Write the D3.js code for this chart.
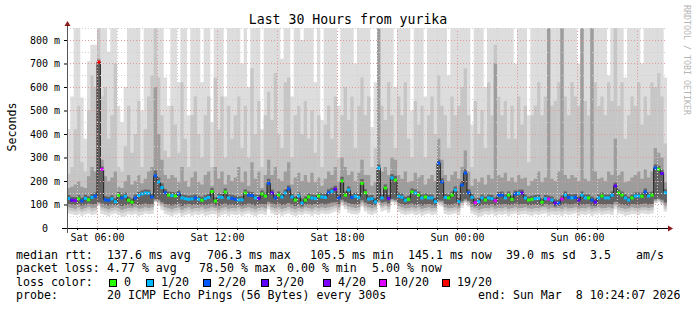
<!DOCTYPE html>
<html>
<head>
<meta charset="utf-8">
<script src="https://cdn.jsdelivr.net/npm/d3@7"></script>
<style>
  body { margin: 0; background: #fff; }
  svg { display: block; }
  text { font-family: "DejaVu Sans Mono", monospace; white-space: pre; }
</style>
</head>
<body>
<div class="chart"></div>
<script>
// smokeping style chart - 30 hours, one column per 10 minutes

// median rtt per column (ms)
var med = [125,118,117,124,115,126,120,130,136,706,
  250,120,118,124,112,138,128,135,118,110,
  128,138,145,149,148,132,222,196,172,150,
  140,138,136,145,128,125,122,124,128,122,
  118,125,130,155,115,132,130,153,128,126,
  122,119,120,149,140,138,128,125,145,136,
  190,149,128,140,132,149,166,132,119,136,
  106,119,132,128,125,136,132,130,150,156,
  165,128,200,140,162,130,135,130,190,150,
  123,125,111,255,128,170,125,213,204,135,
  131,118,122,153,149,140,128,132,128,128,
  112,276,196,130,128,140,162,112,183,234,
  150,130,108,112,128,119,128,125,116,138,
  140,128,140,122,145,148,149,128,119,122,
  125,126,110,125,123,119,106,106,123,140,
  130,128,130,119,140,128,128,119,110,128,
  136,128,128,140,179,149,140,128,119,128,
  136,136,135,153,136,140,255,250,232,150];

// lost pings out of 20 per column
var loss = [1,3,4,0,2,1,0,1,2,19,
  10,2,2,1,1,0,2,1,0,0,
  2,1,1,1,1,2,2,1,1,2,
  0,1,0,2,1,1,1,1,2,1,
  0,1,1,0,0,1,1,0,1,2,
  2,1,1,0,2,2,1,3,0,0,
  2,3,2,0,1,1,2,1,0,1,
  1,0,0,1,1,0,1,1,2,1,
  3,2,0,0,1,2,1,1,0,0,
  1,1,1,1,1,0,3,1,0,1,
  1,1,0,0,1,0,1,0,1,1,
  1,2,2,1,0,0,1,1,2,2,
  2,1,10,1,1,0,1,1,10,2,
  2,1,0,0,2,1,3,1,0,0,
  1,1,0,1,10,1,3,2,10,1,
  2,1,2,3,1,1,0,2,3,1,
  0,1,1,1,3,0,0,1,1,0,
  1,1,0,2,1,0,2,0,3,1];

// smoke: outer (max/min) to inner bands, ms
var up1 = [420,560,850,850,555,380,710,780,780,850,
  850,850,750,850,850,520,450,600,850,850,
  850,850,500,850,850,850,850,850,850,640,
  520,850,850,620,850,850,480,850,850,850,
  620,850,850,450,850,850,850,560,850,850,
  850,850,700,850,600,850,850,850,420,850,
  850,850,850,850,720,850,850,560,850,850,
  800,850,850,850,620,850,460,850,850,850,
  850,520,850,850,850,850,700,850,850,850,
  850,430,620,850,850,850,850,850,600,850,
  850,850,850,500,850,850,850,560,850,850,
  850,850,850,850,650,850,850,850,850,850,
  850,440,850,850,850,600,850,850,850,850,
  850,850,850,850,700,850,850,850,480,850,
  850,850,850,850,850,850,850,850,850,850,
  850,850,850,700,850,850,850,850,850,850,
  850,850,650,850,850,850,850,640,850,850,
  850,850,700,850,850,850,850,850,850,640];
var up2 = [230,260,420,520,280,240,500,650,600,850,
  560,600,380,480,700,260,240,350,520,320,
  400,540,260,420,560,650,850,640,480,330,
  300,520,440,320,620,380,260,480,560,400,
  300,480,560,260,640,420,560,300,520,380,
  480,560,340,520,300,680,400,540,260,480,
  580,460,660,400,340,620,640,300,480,520,
  400,540,380,500,320,480,260,440,520,380,
  560,300,480,600,460,560,340,520,640,480,
  560,260,340,850,520,460,620,480,340,560,
  480,620,380,300,540,440,520,300,480,560,
  400,650,520,480,340,560,480,520,600,680,
  480,260,540,400,500,340,620,480,780,560,
  480,540,380,520,380,560,440,520,280,480,
  520,620,480,560,850,520,540,620,850,560,
  480,620,560,520,850,540,480,850,620,520,
  560,480,620,540,850,520,620,380,480,560,
  520,620,440,560,480,620,600,660,560,360];
var up3 = [170,175,185,200,175,170,220,260,240,720,
  290,220,200,215,240,175,170,200,225,185,
  200,225,190,210,240,260,600,400,290,225,
  210,225,215,195,260,200,175,215,240,195,
  185,225,240,180,260,210,240,185,225,200,
  215,260,195,240,180,280,210,240,170,225,
  290,225,260,210,200,240,280,185,215,235,
  200,225,195,235,195,215,180,210,240,225,
  260,195,300,260,225,240,200,235,290,225,
  225,180,195,850,240,260,225,300,290,225,
  210,240,195,200,235,215,225,185,210,225,
  200,380,290,225,200,225,240,210,260,330,
  240,180,210,195,215,185,225,210,700,225,
  215,235,200,215,195,225,210,215,180,200,
  210,240,195,215,850,210,200,240,850,225,
  210,225,215,200,850,210,200,850,240,210,
  215,200,240,225,380,225,240,195,200,215,
  225,240,210,250,215,240,340,320,300,195];
var up4 = [140,133,132,139,130,141,135,145,151,710,
  262,135,133,139,127,153,143,150,133,125,
  143,153,160,164,163,147,245,215,190,165,
  155,153,151,160,143,140,137,139,143,137,
  133,140,145,170,130,147,145,168,143,141,
  137,134,135,164,155,153,143,140,160,151,
  210,164,143,155,147,164,181,147,134,151,
  125,134,147,143,140,151,147,145,165,171,
  180,143,218,155,177,145,150,145,208,165,
  138,140,128,270,143,185,140,230,222,150,
  146,133,137,168,164,155,143,147,143,143,
  128,290,212,145,143,155,177,128,200,250,
  165,145,125,128,143,134,143,140,131,153,
  155,143,155,137,160,163,164,143,134,137,
  140,141,126,140,138,134,122,122,138,155,
  145,143,145,134,155,143,143,134,126,143,
  151,143,143,155,194,164,155,143,134,143,
  151,151,150,168,151,155,270,265,248,165];
var lo4 = [102,100,98,102,96,100,104,100,102,110,
  104,100,96,100,98,100,94,98,100,96,
  102,98,100,104,100,102,122,120,110,102,
  100,96,100,104,94,100,102,98,100,98,
  100,98,100,104,96,94,100,104,98,100,
  98,100,96,100,104,100,96,100,102,100,
  112,104,100,104,98,100,106,100,94,100,
  92,100,100,98,102,100,104,100,104,108,
  110,102,120,112,106,102,100,102,118,108,
  102,98,98,118,108,112,104,124,120,106,
  102,98,100,104,98,102,96,100,102,98,
  96,118,116,102,98,100,104,96,114,122,
  116,102,94,94,98,100,98,102,96,100,
  100,102,98,100,104,100,102,102,98,98,
  100,98,96,102,98,100,92,94,98,104,
  100,100,104,96,100,100,102,96,94,102,
  100,100,102,100,112,104,100,98,96,102,
  100,100,102,104,100,102,122,126,120,108];
var lo3 = [88,85,82,88,80,85,90,84,86,104,
  88,84,80,85,88,84,78,82,85,84,
  88,82,84,88,85,88,116,112,100,88,
  84,80,85,88,78,84,88,82,85,84,
  88,82,84,88,85,78,84,88,82,85,
  84,88,82,85,88,84,80,85,88,84,
  102,88,84,88,82,85,90,84,80,85,
  82,88,85,82,88,84,88,85,88,92,
  96,88,112,100,92,88,85,88,108,95,
  88,84,88,110,95,100,92,118,114,94,
  88,84,85,88,84,88,82,85,88,84,
  85,110,108,88,84,85,88,84,106,116,
  108,88,84,78,82,85,84,88,82,85,
  84,88,82,85,88,84,85,88,84,82,
  85,84,88,88,82,86,84,85,82,88,
  84,85,88,82,85,84,88,82,85,88,
  84,85,88,84,100,88,85,82,84,88,
  85,84,88,88,85,88,116,120,112,95];
var lo2 = [75,72,70,76,68,72,78,70,74,100,
  75,70,66,72,76,70,64,68,72,70,
  75,68,70,76,72,75,112,105,88,75,
  70,66,72,76,64,70,75,68,72,70,
  75,68,70,75,72,64,70,75,68,72,
  70,75,68,72,76,70,66,72,75,70,
  92,76,70,75,68,72,78,70,66,72,
  68,76,72,68,75,70,76,72,75,80,
  85,76,105,92,80,75,72,76,100,84,
  75,70,76,105,85,90,80,112,108,82,
  75,70,72,76,70,75,68,72,76,70,
  72,105,100,75,70,72,76,70,98,110,
  100,76,70,64,68,72,70,75,68,72,
  70,75,68,72,76,70,72,75,70,68,
  72,70,75,76,68,72,70,72,68,75,
  70,72,76,68,72,70,75,68,72,76,
  70,72,75,70,92,76,72,68,70,75,
  72,70,76,75,72,76,110,115,105,82];
var lo1 = [62,58,55,60,52,58,62,55,58,95,
  60,55,50,58,62,55,48,52,58,55,
  60,52,55,62,58,60,110,95,75,60,
  55,50,58,62,48,55,60,52,58,55,
  60,52,55,60,58,48,55,60,52,58,
  55,60,52,58,62,55,50,58,60,55,
  80,62,55,60,52,58,62,55,50,58,
  55,62,58,52,60,55,62,58,60,65,
  70,62,95,80,65,60,58,62,90,70,
  60,55,62,100,70,75,65,108,100,68,
  60,55,58,62,55,60,52,58,62,55,
  58,100,90,60,55,58,62,55,85,105,
  90,62,55,48,52,58,55,60,52,58,
  55,60,52,58,62,55,58,60,55,52,
  58,55,60,62,52,58,55,58,52,60,
  55,58,62,52,58,55,60,52,58,62,
  55,58,60,55,80,62,58,52,55,60,
  58,55,62,60,58,62,105,110,100,70];

var lossKeys = [0, 1, 2, 3, 4, 10, 19];
var lossColors = ["#26ff00", "#00b8ff", "#0059ff", "#5e00ff", "#7e00ff", "#dd00ff", "#ff0000"];
var lossLabels = ["0", "1/20", "2/20", "3/20", "4/20", "10/20", "19/20"];

var yTickValues = [0, 100, 200, 300, 400, 500, 600, 700, 800];

var svgWidth = 697;
var svgHeight = 310;
var plotLeft = 67, plotRight = 667, plotTop = 28, plotBottom = 228;

var startTime = new Date(2026, 2, 7, 4, 30);
var endTime = new Date(2026, 2, 8, 10, 30);

var x = d3.scaleTime().domain([startTime, endTime]).range([plotLeft, plotRight]);
var y = d3.scaleLinear().domain([0, 851]).range([plotBottom, plotTop]);

function colTime(i) { return d3.timeMinute.offset(startTime, i * 10); }
function val(arr, i) { return arr[Math.min(i, arr.length - 1)]; }

var svg = d3.select(".chart").append("svg")
  .attr("width", svgWidth)
  .attr("height", svgHeight);

svg.append("rect").attr("width", svgWidth).attr("height", svgHeight).attr("fill", "#fff");

svg.append("defs").append("clipPath").attr("id", "plotclip")
  .append("rect")
  .attr("x", plotLeft).attr("y", plotTop)
  .attr("width", plotRight - plotLeft).attr("height", plotBottom - plotTop);

var plot = svg.append("g").attr("clip-path", "url(#plotclip)");

// smoke bands, outer to inner
var idx = d3.range(med.length + 1);
var bands = [
  [lo1, up1, "#dddddd"],
  [lo2, up2, "#c6c6c6"],
  [lo3, up3, "#9d9d9d"],
  [lo4, up4, "#636363"]
];
bands.forEach(function(b) {
  var area = d3.area().curve(d3.curveStepAfter)
    .x(function(i) { return x(colTime(i)); })
    .y0(function(i) { return y(val(b[0], i)); })
    .y1(function(i) { return y(Math.min(val(b[1], i), 900)); });
  plot.append("path").datum(idx).attr("d", area).attr("fill", b[2]);
});

// grid
var grid = svg.append("g").attr("shape-rendering", "crispEdges");
x.ticks(d3.timeHour.every(1)).forEach(function(t) {
  var major = t.getHours() % 3 === 0;
  var px = Math.round(x(t)) + 0.5;
  grid.append("line")
    .attr("x1", px).attr("x2", px)
    .attr("y1", plotTop).attr("y2", plotBottom)
    .attr("stroke", major ? "#e39a9a" : "#cfcfcf")
    .attr("stroke-dasharray", "1,2");
});
d3.range(50, 851, 50).forEach(function(v) {
  var major = v % 100 === 0;
  var py = Math.round(y(v)) + 0.5;
  grid.append("line")
    .attr("x1", plotLeft).attr("x2", plotRight)
    .attr("y1", py).attr("y2", py)
    .attr("stroke", major ? "#e39a9a" : "#cfcfcf")
    .attr("stroke-dasharray", "1,2");
});

// median line
var medLine = d3.line().curve(d3.curveStepAfter)
  .x(function(i) { return x(colTime(i)); })
  .y(function(i) { return y(val(med, i)); });
plot.append("path").datum(idx).attr("d", medLine)
  .attr("fill", "none").attr("stroke", "#202020").attr("stroke-width", 1);

// loss coloured median segments
plot.selectAll("rect.med")
  .data(med)
  .enter()
  .append("rect")
  .attr("class", "med")
  .attr("x", function(d, i) { return x(colTime(i)); })
  .attr("width", function(d, i) { return x(colTime(i + 1)) - x(colTime(i)); })
  .attr("y", function(d) { return y(d) - 1.5; })
  .attr("height", 3)
  .attr("fill", function(d, i) { return lossColors[lossKeys.indexOf(loss[i])]; });

// axes
var xAxisTicks = svg.append("g")
  .attr("transform", "translate(0," + plotBottom + ")")
  .call(d3.axisBottom(x).ticks(d3.timeHour.every(1)).tickSizeInner(2).tickSizeOuter(0).tickFormat(""));
xAxisTicks.select(".domain").remove();

var labelTimes = [6, 12, 18, 24, 30].map(function(h) { return d3.timeHour.offset(new Date(2026, 2, 7, 0, 0), h); });
var xAxisLabels = svg.append("g")
  .attr("transform", "translate(0," + plotBottom + ")")
  .call(d3.axisBottom(x).tickValues(labelTimes).tickSize(0).tickPadding(6).tickFormat(d3.timeFormat("%a %H:%M")));
xAxisLabels.select(".domain").remove();
xAxisLabels.selectAll("text").attr("font-family", "DejaVu Sans Mono").attr("font-size", "10px").attr("fill", "#000");

var yAxis = svg.append("g")
  .attr("transform", "translate(" + plotLeft + ",0)")
  .call(d3.axisLeft(y).tickValues(yTickValues).tickSize(3).tickPadding(4)
    .tickFormat(function(d) { return d === 0 ? "0  " : d + " m"; }));
yAxis.select(".domain").remove();
yAxis.selectAll("text").attr("font-family", "DejaVu Sans Mono").attr("font-size", "10px").attr("fill", "#000");

svg.append("line")
  .attr("x1", 62).attr("x2", 668).attr("y1", plotBottom + 0.5).attr("y2", plotBottom + 0.5)
  .attr("stroke", "#000");
svg.append("line")
  .attr("x1", plotLeft + 0.5).attr("x2", plotLeft + 0.5).attr("y1", 233).attr("y2", 25)
  .attr("stroke", "#555");
svg.append("path").attr("d", "M668,225.5 L673,228.5 L668,231.5 Z").attr("fill", "#8b1a1a");
svg.append("path").attr("d", "M64.5,26 L67.5,21 L70.5,26 Z").attr("fill", "#8b1a1a");

// titles
svg.append("text")
  .attr("x", 348).attr("y", 24)
  .attr("text-anchor", "middle")
  .attr("font-size", "13.2px")
  .text("Last 30 Hours from yurika");

svg.append("text")
  .attr("transform", "translate(16,127) rotate(-90)")
  .attr("text-anchor", "middle")
  .attr("font-size", "11.6px")
  .text("Seconds");

svg.append("text")
  .attr("transform", "translate(684,5) rotate(90)")
  .attr("font-size", "8.3px")
  .attr("fill", "#b5b5b5")
  .text("RRDTOOL / TOBI OETIKER");

// legend
var legend = svg.append("g").attr("font-size", "11.6px");
var legendPieces = [
  [16, 258.5, "median rtt:"], [107, 258.5, "137.6 ms avg"], [207, 258.5, "706.3 ms max"],
  [310, 258.5, "105.5 ms min"], [408, 258.5, "145.1 ms now"], [506, 258.5, "39.0 ms sd"],
  [590, 258.5, "3.5"], [636, 258.5, "am/s"],
  [16, 272, "packet loss:"], [107, 272, "4.77 % avg"], [199, 272, "78.50 % max"],
  [287, 272, "0.00 % min"], [372, 272, "5.00 % now"],
  [16, 285.5, "loss color:"],
  [16, 299, "probe:"], [107, 299, "20 ICMP Echo Pings (56 Bytes) every 300s"],
  [478, 299, "end: Sun Mar  8 10:24:07 2026"]
];
legend.selectAll("text.piece")
  .data(legendPieces)
  .enter()
  .append("text")
  .attr("class", "piece")
  .attr("x", function(d) { return d[0]; })
  .attr("y", function(d) { return d[1]; })
  .text(function(d) { return d[2]; });

var boxX = [109, 146, 203, 261, 323, 379, 442];
lossColors.forEach(function(c, i) {
  legend.append("rect")
    .attr("x", boxX[i] + 0.5).attr("y", 279.5)
    .attr("width", 7).attr("height", 7)
    .attr("fill", c).attr("stroke", "#000");
  legend.append("text")
    .attr("x", boxX[i] + 15).attr("y", 285.5)
    .text(lossLabels[i]);
});
</script>
</body>
</html>
